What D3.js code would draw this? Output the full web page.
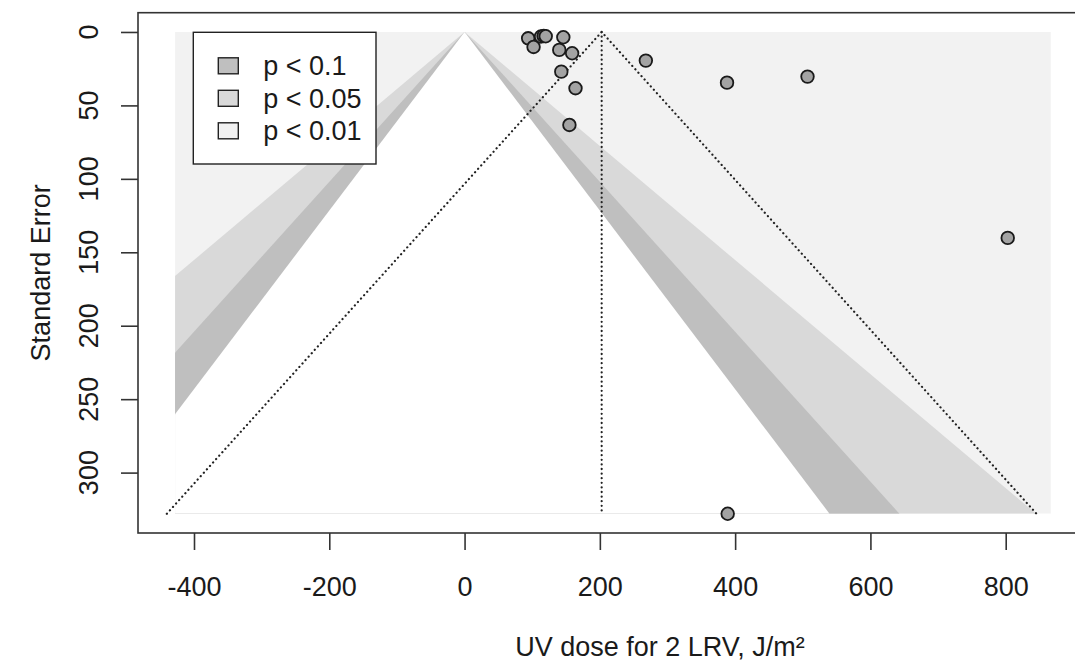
<!DOCTYPE html>
<html>
<head>
<meta charset="utf-8">
<script src="https://cdn.jsdelivr.net/npm/d3@7"></script>
<style>
  html, body { margin: 0; padding: 0; background: #ffffff; }
  svg { display: block; }
  text { font-family: "Liberation Sans", Arial, Helvetica, sans-serif; fill: #1a1a1a; }
</style>
</head>
<body>
<svg id="chart" width="1075" height="663"></svg>
<script>
// ---- data ----
const studyEffect = [94, 102, 113, 117, 120, 146, 140, 159, 143, 164, 155, 268, 388, 507, 803, 389];
const studySE     = [4.3, 10.2, 3.1, 2.7, 2.9, 3.6, 12.2, 14.5, 27, 38.3, 63.3, 19.5, 34.5, 30.4, 140.2, 328];
const estimate = 202.7;
const contourCenter = 0;
const levelLabels = ["p < 0.1", "p < 0.05", "p < 0.01"];
const levelZ      = [1.645, 1.96, 2.576];
const levelFill   = ["#bfbfbf", "#d9d9d9", "#f2f2f2"];
const xTicks = [-400, -200, 0, 200, 400, 600, 800];
const yTicks = [0, 50, 100, 150, 200, 250, 300];
const xLabel = "UV dose for 2 LRV, J/m²";
const yLabel = "Standard Error";
const shadeXRange = [-428, 866.8];

// ---- layout ----
const svg = d3.select("#chart");
const box = { left: 138, top: 12.7, right: 1182, bottom: 533 };
const seMax = d3.max(studySE);
const padY = 0.04 * seMax;
const x = d3.scaleLinear().domain([-400, 800]).range([194, 1005.7]);
const y = d3.scaleLinear().domain([-padY, seMax + padY]).range([box.top, box.bottom]);

// clip for shaded area
svg.append("defs").append("clipPath").attr("id", "shadeClip")
  .append("rect")
  .attr("x", x(shadeXRange[0])).attr("y", y(0))
  .attr("width", x(shadeXRange[1]) - x(shadeXRange[0]))
  .attr("height", y(seMax) - y(0));

const shade = svg.append("g").attr("clip-path", "url(#shadeClip)");
shade.append("rect")
  .attr("x", x(shadeXRange[0])).attr("y", y(0))
  .attr("width", x(shadeXRange[1]) - x(shadeXRange[0]))
  .attr("height", y(seMax) - y(0))
  .attr("fill", levelFill[2]);

// contour triangles, widest first
const tri = (z) => [[contourCenter, 0], [contourCenter - z * seMax, seMax], [contourCenter + z * seMax, seMax]];
const line = d3.line().x(d => x(d[0])).y(d => y(d[1]));
[[levelZ[2], levelFill[1]], [levelZ[1], levelFill[0]], [levelZ[0], "#ffffff"]].forEach(([z, f]) => {
  shade.append("path").attr("d", line(tri(z)) + "Z").attr("fill", f).attr("stroke", "none");
});

// dotted funnel around estimate
const dotStyle = sel => sel.attr("fill", "none").attr("stroke", "#222")
  .attr("stroke-width", 2.2).attr("stroke-linecap", "round").attr("stroke-dasharray", "0.1 4.5");
svg.append("path")
  .attr("d", line([[estimate - 1.96 * seMax, seMax], [estimate, 0], [estimate + 1.96 * seMax, seMax]]))
  .call(dotStyle);
svg.append("path")
  .attr("d", line([[estimate, 0], [estimate, seMax]]))
  .call(dotStyle);

// points
svg.append("g").selectAll("circle")
  .data(studyEffect.map((e, i) => ({ e, se: studySE[i] })))
  .join("circle")
  .attr("cx", d => x(d.e)).attr("cy", d => y(d.se))
  .attr("r", 6.3)
  .attr("fill", "#a3a3a3").attr("stroke", "#1a1a1a").attr("stroke-width", 1.8);

// box
svg.append("rect")
  .attr("x", box.left).attr("y", box.top)
  .attr("width", box.right - box.left).attr("height", box.bottom - box.top)
  .attr("fill", "none").attr("stroke", "#333").attr("stroke-width", 1.6);

// axes
const fs = 27;
const xAxis = svg.append("g").attr("transform", `translate(0,${box.bottom})`)
  .call(d3.axisBottom(x).tickValues(xTicks).tickSize(17).tickPadding(27).tickFormat(d3.format("d")));
xAxis.select(".domain").remove();
xAxis.selectAll("line").attr("stroke", "#333").attr("stroke-width", 1.6);
xAxis.selectAll("text").attr("font-size", fs).attr("fill", "#1a1a1a")
  .text(d => (d < 0 ? "-" + Math.abs(d) : d));

const yAxis = svg.append("g").attr("transform", `translate(${box.left},0)`)
  .call(d3.axisLeft(y).tickValues(yTicks).tickSize(17).tickFormat(d3.format("d")));
yAxis.select(".domain").remove();
yAxis.selectAll("line").attr("stroke", "#333").attr("stroke-width", 1.6);
yAxis.selectAll("text").remove();
svg.append("g").selectAll("text").data(yTicks).join("text")
  .attr("transform", d => `translate(98,${y(d)}) rotate(-90)`)
  .attr("text-anchor", "middle").attr("font-size", fs)
  .text(d => d);

// axis titles
svg.append("text")
  .attr("x", (box.left + box.right) / 2).attr("y", 656)
  .attr("text-anchor", "middle").attr("font-size", fs)
  .text(xLabel);
svg.append("text")
  .attr("transform", `translate(50,${(box.top + box.bottom) / 2}) rotate(-90)`)
  .attr("text-anchor", "middle").attr("font-size", fs)
  .text(yLabel);

// legend
const lg = svg.append("g");
lg.append("rect").attr("x", 193.3).attr("y", 32.3).attr("width", 182.7).attr("height", 131.7)
  .attr("fill", "#fff").attr("stroke", "#222").attr("stroke-width", 1.4);
levelLabels.forEach((lab, i) => {
  const cy = 65.8 + i * 32.5;
  lg.append("rect").attr("x", 218.3).attr("y", cy - 8).attr("width", 20).attr("height", 16)
    .attr("fill", levelFill[i]).attr("stroke", "#222").attr("stroke-width", 1.4);
  lg.append("text").attr("x", 263.3).attr("y", cy + 9.5).attr("font-size", fs).text(lab);
});
</script>
</body>
</html>
